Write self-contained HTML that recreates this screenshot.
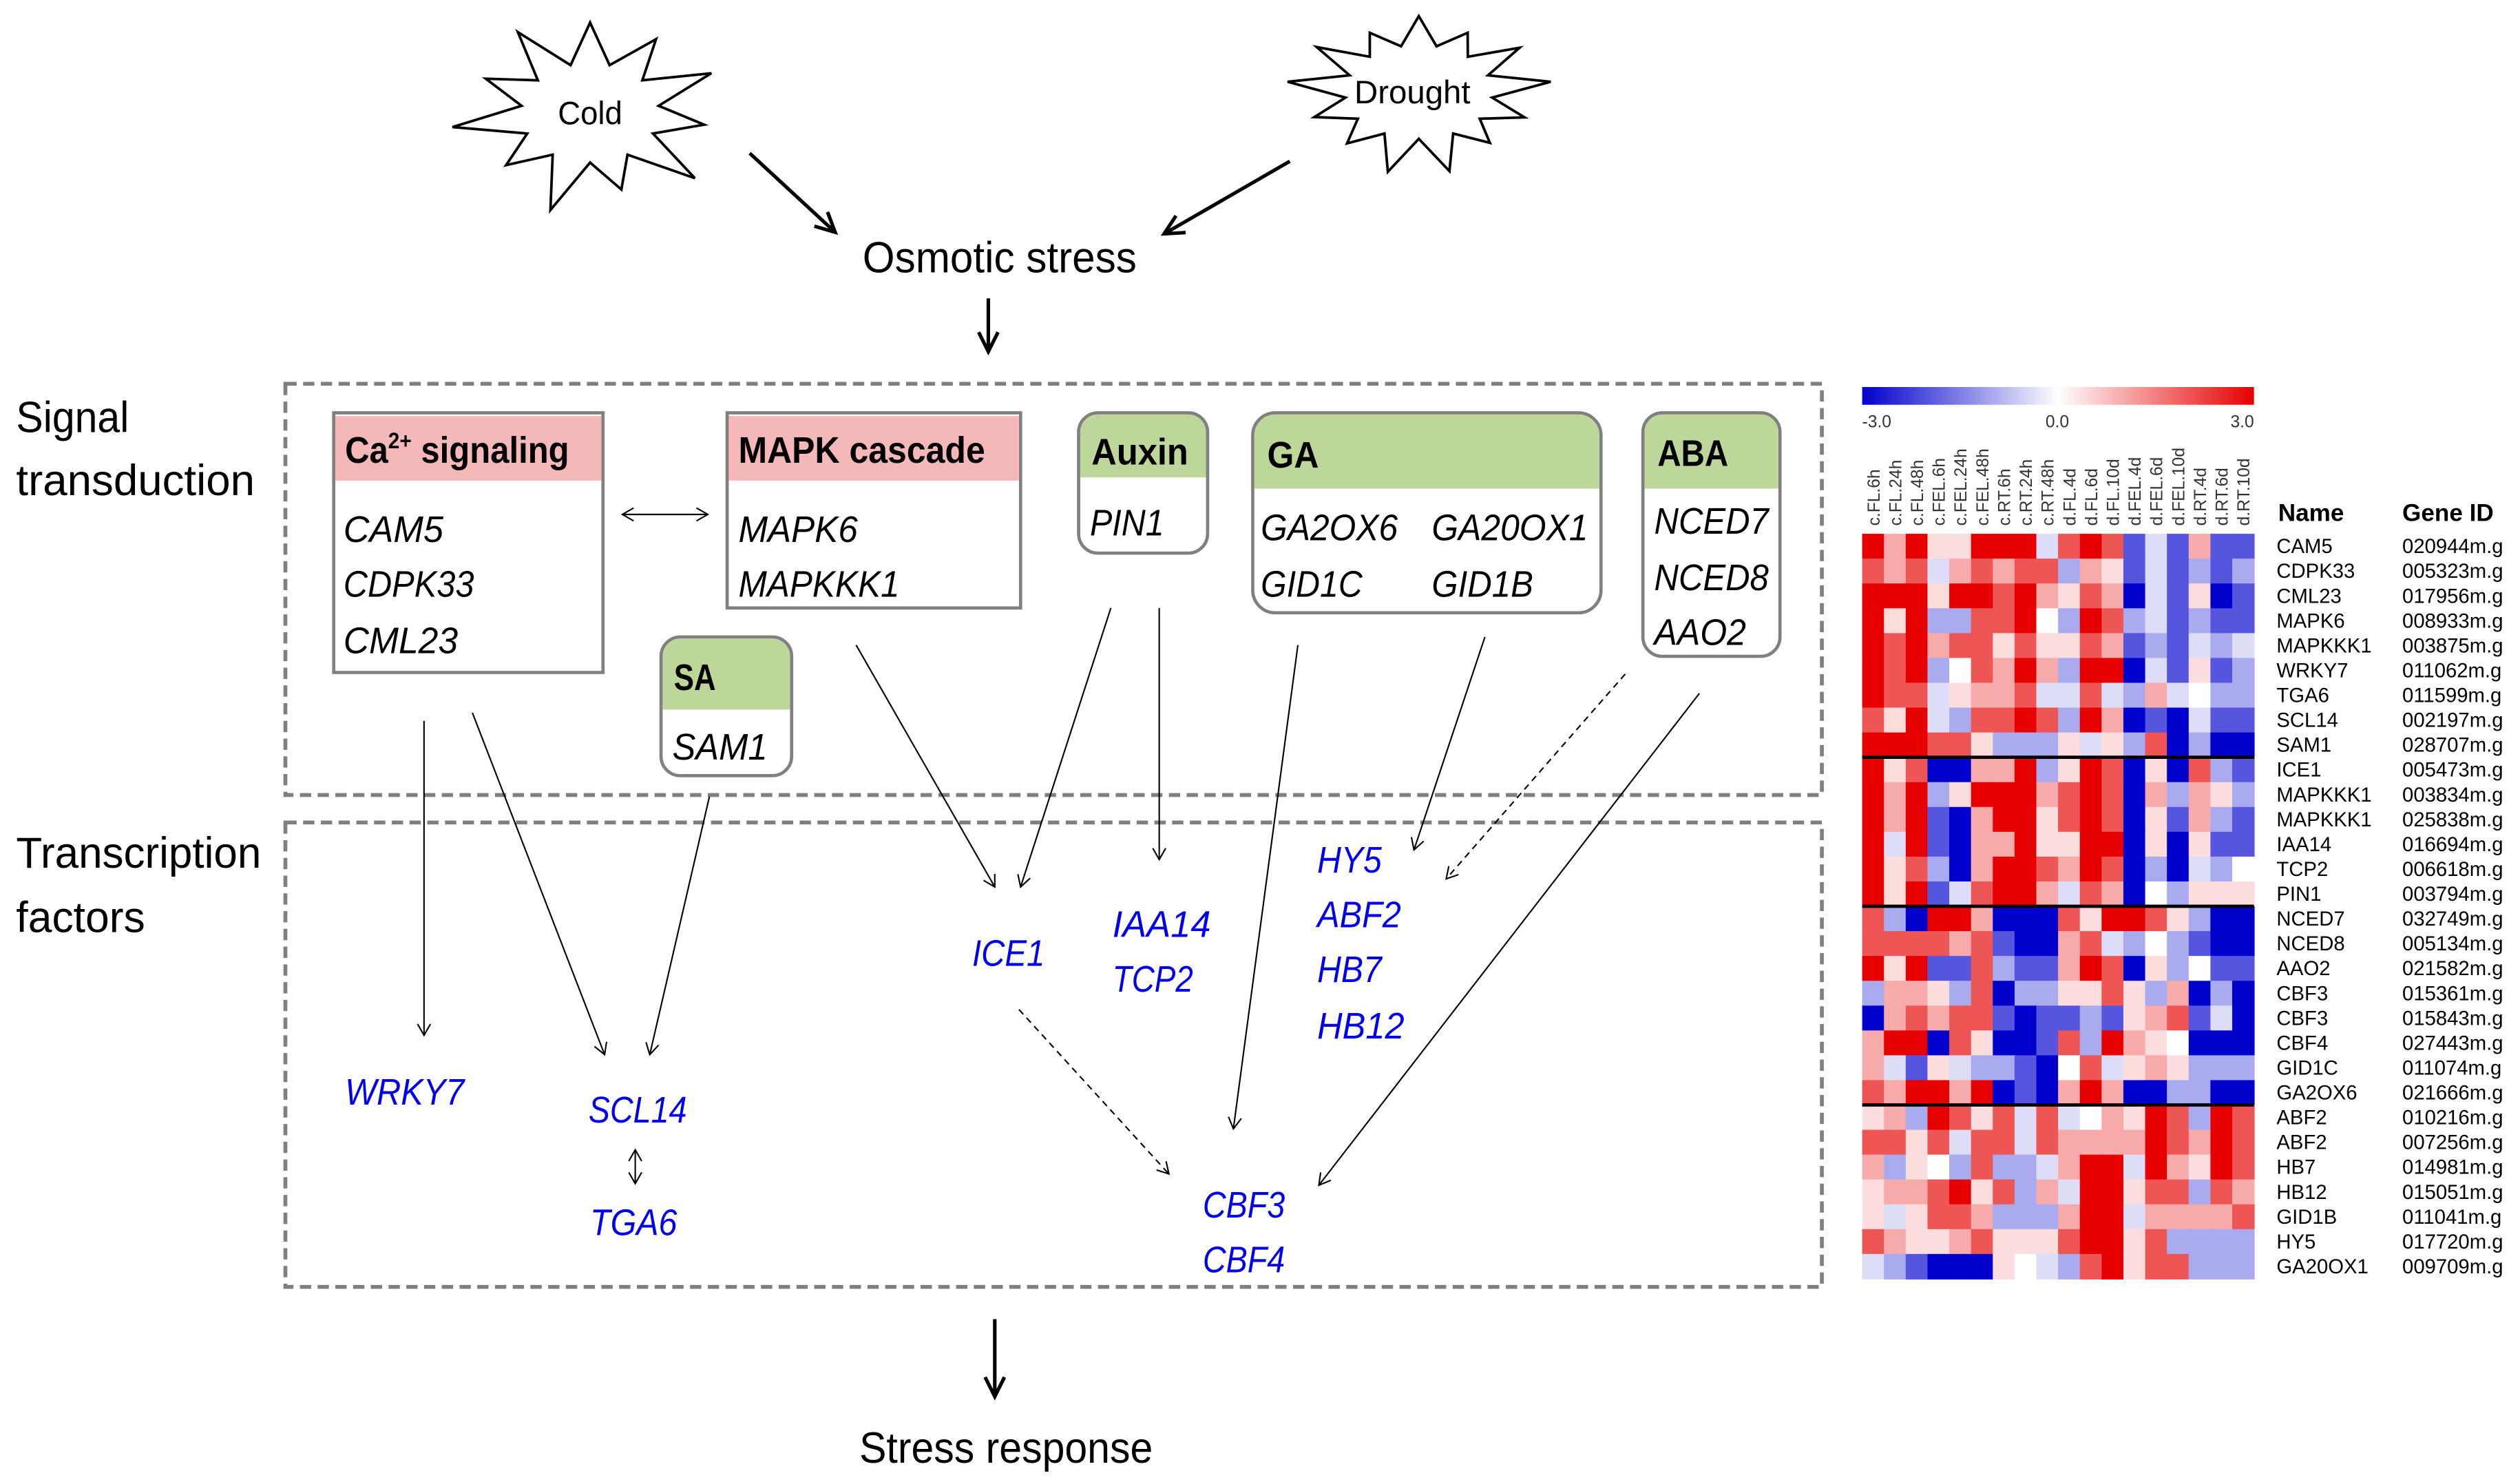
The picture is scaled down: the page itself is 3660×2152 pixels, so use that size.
<!DOCTYPE html>
<html><head><meta charset="utf-8">
<style>
html,body{margin:0;padding:0;background:#fff;}
svg{display:block}
text{font-family:"Liberation Sans",sans-serif;}
.t{font-size:27px;fill:#000}
.h{font-size:23px;font-weight:bold;fill:#000}
.g{font-size:23px;font-style:italic;fill:#000}
.b{font-size:23px;font-style:italic;fill:#0000ee}
.cl{font-size:10.5px;fill:#333;font-family:"Liberation Sans",sans-serif}
.rl{font-size:12.5px;fill:#000}
</style></head>
<body>
<svg id="s" width="3660" height="2152" viewBox="0 0 1563 919" xmlns="http://www.w3.org/2000/svg">
<defs>
<marker id="a" markerWidth="10" markerHeight="10" refX="8" refY="5" orient="auto" markerUnits="userSpaceOnUse"><path d="M1,1 L8,5 L1,9" fill="none" stroke="#000" stroke-width="0.9"/></marker>
<marker id="ab" markerWidth="16" markerHeight="16" refX="13" refY="8" orient="auto" markerUnits="userSpaceOnUse"><path d="M1,2 L13,8 L1,14" fill="none" stroke="#000" stroke-width="2.2"/></marker>
<marker id="as" markerWidth="10" markerHeight="10" refX="2" refY="5" orient="auto" markerUnits="userSpaceOnUse"><path d="M9,1 L2,5 L9,9" fill="none" stroke="#000" stroke-width="0.9"/></marker>
<linearGradient id="cb" x1="0" x2="1" y1="0" y2="0"><stop offset="0" stop-color="#0000cd"/><stop offset="0.5" stop-color="#ffffff"/><stop offset="1" stop-color="#e60000"/></linearGradient>
</defs>
<rect width="1563" height="919" fill="#fff"/>
<g id="stars" fill="#fff" stroke="#000" stroke-width="1.6"></g>
<text x="346" y="77" class="t" style="font-size:20px" textLength="40" lengthAdjust="spacingAndGlyphs">Cold</text>
<text x="840" y="64" class="t" style="font-size:20px" textLength="72" lengthAdjust="spacingAndGlyphs">Drought</text>
<g stroke="#000" stroke-width="2.2" fill="none">
<line x1="465" y1="95" x2="518" y2="144" marker-end="url(#ab)"/>
<line x1="800" y1="100" x2="722" y2="145" marker-end="url(#ab)"/>
<line x1="613" y1="185" x2="613" y2="218" marker-end="url(#ab)"/>
<line x1="617" y1="818" x2="617" y2="866" marker-end="url(#ab)"/>
</g>
<text x="535" y="169" class="t" textLength="170" lengthAdjust="spacingAndGlyphs">Osmotic stress</text>
<text x="533" y="907" class="t" textLength="182" lengthAdjust="spacingAndGlyphs">Stress response</text>
<text x="10" y="268" class="t" textLength="70" lengthAdjust="spacingAndGlyphs">Signal</text>
<text x="10" y="307" class="t" textLength="148" lengthAdjust="spacingAndGlyphs">transduction</text>
<text x="10" y="538" class="t" textLength="152" lengthAdjust="spacingAndGlyphs">Transcription</text>
<text x="10" y="578" class="t" textLength="80" lengthAdjust="spacingAndGlyphs">factors</text>
<g fill="none" stroke="#7f7f7f" stroke-width="2.4" stroke-dasharray="7,4">
<rect x="177" y="238" width="953" height="255"/>
<rect x="177" y="510" width="953" height="288"/>
</g>
<!-- Ca box -->
<rect x="207" y="256" width="167" height="161" fill="#fff" stroke="#808080" stroke-width="2"/>
<rect x="208" y="258" width="165" height="40" fill="#f4b8b8"/>
<text x="214" y="287" class="h" textLength="139" lengthAdjust="spacingAndGlyphs">Ca<tspan dy="-9" style="font-size:14px">2+</tspan><tspan dy="9"> signaling</tspan></text>
<text x="213" y="336" class="g" textLength="62" lengthAdjust="spacingAndGlyphs">CAM5</text><text x="213" y="370" class="g" textLength="81" lengthAdjust="spacingAndGlyphs">CDPK33</text><text x="213" y="405" class="g" textLength="71" lengthAdjust="spacingAndGlyphs">CML23</text>
<!-- MAPK -->
<rect x="451" y="256" width="182" height="121" fill="#fff" stroke="#808080" stroke-width="2"/>
<rect x="452" y="258" width="180" height="40" fill="#f4b8b8"/>
<text x="458" y="287" class="h" textLength="153" lengthAdjust="spacingAndGlyphs">MAPK cascade</text>
<text x="458" y="336" class="g" textLength="74" lengthAdjust="spacingAndGlyphs">MAPK6</text><text x="458" y="370" class="g" textLength="100" lengthAdjust="spacingAndGlyphs">MAPKKK1</text>
<line x1="386" y1="319" x2="439" y2="319" stroke="#000" stroke-width="1" marker-end="url(#a)" marker-start="url(#as)"/>
<!-- Auxin -->
<rect x="669" y="256" width="80" height="87" rx="12" fill="#fff" stroke="#808080" stroke-width="2"/>
<path d="M670,296 V268 a11,11 0 0 1 11,-11 H737 a11,11 0 0 1 11,11 V296 Z" fill="#bdd79b"/>
<text x="677" y="288" class="h" textLength="60" lengthAdjust="spacingAndGlyphs">Auxin</text><text x="676" y="332" class="g" textLength="46" lengthAdjust="spacingAndGlyphs">PIN1</text>
<!-- GA -->
<rect x="777" y="256" width="216" height="124" rx="14" fill="#fff" stroke="#808080" stroke-width="2"/>
<path d="M778,303 V270 a13,13 0 0 1 13,-13 H979 a13,13 0 0 1 13,13 V303 Z" fill="#bdd79b"/>
<text x="786" y="290" class="h" textLength="32" lengthAdjust="spacingAndGlyphs">GA</text>
<text x="782" y="335" class="g" textLength="85" lengthAdjust="spacingAndGlyphs">GA2OX6</text><text x="888" y="335" class="g" textLength="97" lengthAdjust="spacingAndGlyphs">GA20OX1</text>
<text x="782" y="370" class="g" textLength="63" lengthAdjust="spacingAndGlyphs">GID1C</text><text x="888" y="370" class="g" textLength="63" lengthAdjust="spacingAndGlyphs">GID1B</text>
<!-- ABA -->
<rect x="1019" y="256" width="85" height="151" rx="12" fill="#fff" stroke="#808080" stroke-width="2"/>
<path d="M1020,303 V268 a11,11 0 0 1 11,-11 H1092 a11,11 0 0 1 11,11 V303 Z" fill="#bdd79b"/>
<text x="1028" y="289" class="h" textLength="44" lengthAdjust="spacingAndGlyphs">ABA</text>
<text x="1026" y="331" class="g" textLength="71" lengthAdjust="spacingAndGlyphs">NCED7</text><text x="1026" y="366" class="g" textLength="71" lengthAdjust="spacingAndGlyphs">NCED8</text><text x="1026" y="400" class="g" textLength="57" lengthAdjust="spacingAndGlyphs">AAO2</text>
<!-- SA -->
<rect x="410" y="395" width="81" height="86" rx="12" fill="#fff" stroke="#808080" stroke-width="2"/>
<path d="M411,440 V407 a11,11 0 0 1 11,-11 H479 a11,11 0 0 1 11,11 V440 Z" fill="#bdd79b"/>
<text x="418" y="428" class="h" textLength="26" lengthAdjust="spacingAndGlyphs">SA</text><text x="417" y="471" class="g" textLength="59" lengthAdjust="spacingAndGlyphs">SAM1</text>
<!-- connectors -->
<g stroke="#000" stroke-width="0.9" fill="none">
<line x1="263" y1="447" x2="263" y2="642" marker-end="url(#a)"/>
<line x1="293" y1="442" x2="375" y2="654" marker-end="url(#a)"/>
<line x1="440" y1="494" x2="403" y2="654" marker-end="url(#a)"/>
<line x1="531" y1="400" x2="617" y2="550" marker-end="url(#a)"/>
<line x1="689" y1="377" x2="633" y2="550" marker-end="url(#a)"/>
<line x1="719" y1="377" x2="719" y2="533" marker-end="url(#a)"/>
<line x1="805" y1="400" x2="765" y2="700" marker-end="url(#a)"/>
<line x1="921" y1="395" x2="877" y2="527" marker-end="url(#a)"/>
<line x1="1008" y1="418" x2="897" y2="545" stroke-dasharray="4,3" marker-end="url(#a)"/>
<line x1="1054" y1="430" x2="818" y2="735" marker-end="url(#a)"/>
<line x1="632" y1="626" x2="725" y2="728" stroke-dasharray="4,3" marker-end="url(#a)"/>
<line x1="394" y1="713" x2="394" y2="734" marker-end="url(#a)" marker-start="url(#as)"/>
</g>
<text x="214" y="685" class="b" textLength="74" lengthAdjust="spacingAndGlyphs">WRKY7</text>
<text x="365" y="696" class="b" textLength="61" lengthAdjust="spacingAndGlyphs">SCL14</text>
<text x="366" y="766" class="b" textLength="54" lengthAdjust="spacingAndGlyphs">TGA6</text>
<text x="603" y="599" class="b" textLength="45" lengthAdjust="spacingAndGlyphs">ICE1</text>
<text x="690" y="581" class="b" textLength="61" lengthAdjust="spacingAndGlyphs">IAA14</text>
<text x="690" y="615" class="b" textLength="50" lengthAdjust="spacingAndGlyphs">TCP2</text>
<text x="817" y="541" class="b" textLength="40" lengthAdjust="spacingAndGlyphs">HY5</text>
<text x="817" y="575" class="b" textLength="52" lengthAdjust="spacingAndGlyphs">ABF2</text>
<text x="817" y="609" class="b" textLength="40" lengthAdjust="spacingAndGlyphs">HB7</text>
<text x="817" y="644" class="b" textLength="54" lengthAdjust="spacingAndGlyphs">HB12</text>
<text x="746" y="755" class="b" textLength="51" lengthAdjust="spacingAndGlyphs">CBF3</text>
<text x="746" y="789" class="b" textLength="51" lengthAdjust="spacingAndGlyphs">CBF4</text>
<!-- heatmap -->
<rect x="1155" y="240" width="243" height="11" fill="url(#cb)"/>
<text x="1155" y="265" class="cl">-3.0</text>
<text x="1276" y="265" class="cl" text-anchor="middle">0.0</text>
<text x="1398" y="265" class="cl" text-anchor="end">3.0</text>
<g id="hm"></g>
<text x="1413" y="323" class="rl" style="font-weight:bold;font-size:15px">Name</text>
<text x="1490" y="323" class="rl" style="font-weight:bold;font-size:15px">Gene ID</text>
</svg>
<script>
(function(){
var NS="http://www.w3.org/2000/svg";
function el(n,a,p,t){var e=document.createElementNS(NS,n);for(var k in a)e.setAttribute(k,a[k]);if(t)e.textContent=t;p.appendChild(e);return e;}
var st=document.getElementById("stars");
function star(cx,cy,rx,ry,n,ir,seed){var pts=[];for(var i=0;i<2*n;i++){var ang=-Math.PI/2+i*Math.PI/n;var r=(i%2==0)?1:ir;var j=1+0.12*Math.sin(i*seed);if(i%2==0)r*=j;pts.push((cx+rx*r*Math.cos(ang)).toFixed(1)+","+(cy+ry*r*Math.sin(ang)).toFixed(1));}
el("polygon",{points:pts.join(" ")},st);}
star(366,70,78,56,11,0.55,1.7);
star(880,57,74,47,13,0.62,2.3);
var hm=document.getElementById("hm");
var cols=["c.FL.6h","c.FL.24h","c.FL.48h","c.FEL.6h","c.FEL.24h","c.FEL.48h","c.RT.6h","c.RT.24h","c.RT.48h","d.FL.4d","d.FL.6d","d.FL.10d","d.FEL.4d","d.FEL.6d","d.FEL.10d","d.RT.4d","d.RT.6d","d.RT.10d"];
var rows=[
["CAM5","020944m.g","RpRqqRRRmrRrbmbpbb"],
["CDPK33","005323m.g","rprmprprrlpqbmblbl"],
["CML23","017956m.g","RRRqRRrRpqrpBmbqBb"],
["MAPK6","008933m.g","RqRllrrRwlRrlmblbb"],
["MAPKKK1","003875m.g","RrRprrqrqqrpblbmlm"],
["WRKY7","011062m.g","RrRlwrpRplRRBmbqbl"],
["TGA6","011599m.g","Rrrmqpprmmrmlpmwll"],
["SCL14","002197m.g","rqRmlrrRrlRpBbBmbb"],
["SAM1","028707m.g","RRRrrqlllqmqlrBlBB"],
["ICE1","005473m.g","RqrBBppRlqRrBqBrlb"],
["MAPKKK1","003834m.g","RpRlqRRRprRrBplpql"],
["MAPKKK1","025838m.g","RpRbBpRRqrRrBqbplb"],
["IAA14","016694m.g","RmRbBppRqqRRBqBqbb"],
["TCP2","006618m.g","RqrlBpRRrpRrBlBmlw"],
["PIN1","003794m.g","RqRbmrRRpmrpBwlqqq"],
["NCED7","032749m.g","rlBRRpBBBrqRRrqlBB"],
["NCED8","005134m.g","rrrrprbBBprmlwlbBB"],
["AAO2","021582m.g","RqRbbrlbbpRrBqlwbb"],
["CBF3","015361m.g","lppqlrBllqqrqlpBlB"],
["CBF3","015843m.g","BprprrbBbblbqprbmB"],
["CBF4","027443m.g","pRRBrqBBbrlRpqwBBB"],
["GID1C","011074m.g","pmbqmllbBwrmqpqlll"],
["GA2OX6","021666m.g","rpRRpRBbBpRpBBllBB"],
["ABF2","010216m.g","qplRrqrmrmwpqRrlRr"],
["ABF2","007256m.g","rrqrmrrmrppppRrpRr"],
["HB7","014981m.g","plqwlrllmpRRmRpqRr"],
["HB12","015051m.g","qpprRqrlpmRRqrrlrp"],
["GID1B","011041m.g","qmqrrplllpRRmppppr"],
["HY5","017720m.g","rpqqprqqqrRRqrllll"],
["GA20OX1","009709m.g","mlbBBBqwmlrRqrrlll"]];
var val={B:-3,b:-2,l:-1,m:-0.4,w:0,q:0.4,p:1,r:2,R:3};
function col(v){var t=Math.min(1,Math.abs(v)/3);var r,g,b;if(v<0){r=255*(1-t);g=255*(1-t);b=255-50*t;}else{r=255-25*t;g=255*(1-t);b=255*(1-t);}return "rgb("+Math.round(r)+","+Math.round(g)+","+Math.round(b)+")";}
var x0=1155,y0=331,cw=243/18,rh=15.4;
for(var c=0;c<18;c++){var x=x0+c*cw+cw/2+4;el("text",{x:x,y:326,"class":"cl",transform:"rotate(-90 "+x+" 326)"},hm,cols[c]);}
for(var r=0;r<rows.length;r++){var s=rows[r][2];for(var c=0;c<18;c++){el("rect",{x:(x0+c*cw).toFixed(2),y:(y0+r*rh).toFixed(2),width:(cw+0.4).toFixed(2),height:(rh+0.4).toFixed(2),fill:col(val[s[c]])},hm);}
var ty=y0+r*rh+12;el("text",{x:1412,y:ty,"class":"rl"},hm,rows[r][0]);el("text",{x:1490,y:ty,"class":"rl"},hm,rows[r][1]);}
[9,15,23].forEach(function(k){var y=y0+k*rh;el("line",{x1:x0,x2:x0+243,y1:y,y2:y,stroke:"#000","stroke-width":2},hm);});
})();
</script>
</body></html>
